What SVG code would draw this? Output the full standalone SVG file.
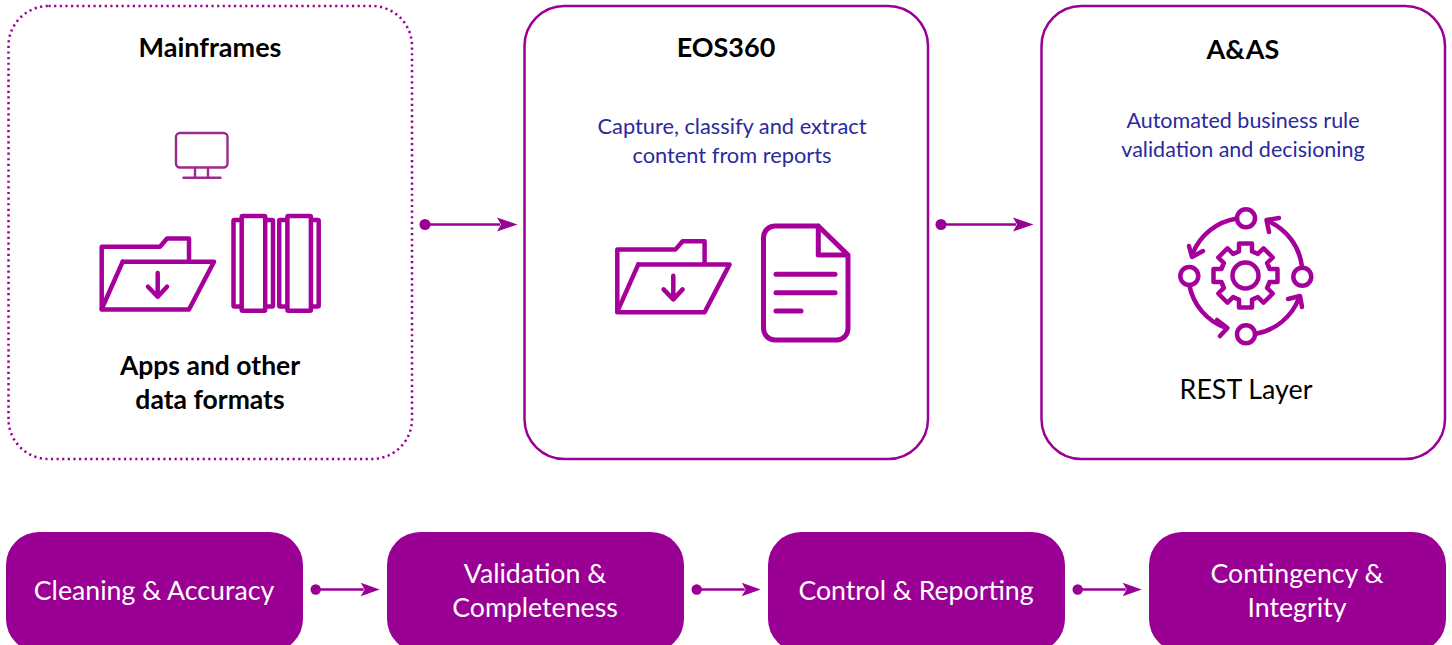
<svg xmlns="http://www.w3.org/2000/svg" width="1452" height="645" viewBox="0 0 1452 645">
<style>
text{font-family:Lato,"Noto Sans","Liberation Sans",sans-serif;text-anchor:middle}
.box{fill:#fff;stroke:#9b0095;stroke-width:2.5}
.dot{fill:#fff;stroke:#9b0095;stroke-width:2.5;stroke-dasharray:2.2 3.42}
.pill{fill:#9b0095}
.h{font-size:27px;font-weight:700;fill:#000}
.h2{font-size:26.5px;font-weight:700;fill:#000}
.s{font-size:21.5px;fill:#2b2a9c}
.s2{font-size:21.8px;fill:#2b2a9c}
.w{font-size:26.7px;fill:#fff}
.i{fill:none;stroke:#a6009a;stroke-width:4.500;stroke-linejoin:round;stroke-linecap:round}
.c{stroke:#9b0095;stroke-width:2.500;fill:none}
.d{fill:#9b0095}
</style>
<defs>
<g id="folder" class="i">
<path d="M122.700 261.700H214L189 309.500H101.700V246.700H160L167 238.500H189V261.700"/>
<path d="M122.700 261.700L101.700 309"/>
<path d="M157.700 273V296.700M148 286.700L157.700 296.700L167 286.700"/>
</g>
<g id="book" class="i">
<rect x="233.500" y="220" width="39.500" height="86.500" rx="1"/>
<rect x="241.700" y="216" width="23.500" height="94.700" rx="1" fill="#fff"/>
</g>
<path id="tooth" d="M-9.200-23L-6.500-24V-32H6.500V-24L9.200-23"/>
<g id="arrow"><circle r="5.200" class="d"/><path d="M0 0H48" class="c"/><path d="M45 -6.700L64 0L45 6.700L49 0Z" class="d"/></g>
<g id="arrowL"><circle r="5.500" class="d"/><path d="M0 0H75" class="c"/><path d="M72 -7L92.500 0L72 7L76 0Z" class="d"/></g>
</defs>

<g id="connectors">
<use href="#arrowL" x="425" y="224.500"/>
<use href="#arrowL" x="941" y="224.500"/>
<use href="#arrow" x="315.700" y="589.500"/>
<use href="#arrow" x="696.700" y="589.500"/>
<use href="#arrow" x="1077.700" y="589.500"/>
</g>

<g id="mainframes">
<rect class="dot" x="8.500" y="6" width="403.500" height="453" rx="40"/>
<text class="h" x="210" y="56.500">Mainframes</text>
<g fill="none" stroke="#9b2a8c" stroke-width="2.400" stroke-linecap="round">
<rect x="176" y="133" width="51.500" height="34.500" rx="4"/>
<path d="M195 167.500V177.700M208 167.500V177.700M183.500 177.700H220.500"/>
</g>
<use href="#folder"/>
<use href="#book"/>
<use href="#book" x="45.700"/>
<text class="h2" x="210" y="374.500">Apps and other</text>
<text class="h2" x="210" y="408.500">data formats</text>
</g>

<g id="eos360">
<rect class="box" x="524.500" y="6" width="403.500" height="453" rx="40"/>
<text class="h" x="726" y="56.500">EOS360</text>
<text class="s2" x="732" y="134">Capture, classify and extract</text>
<text class="s2" x="732" y="163">content from reports</text>
<use href="#folder" x="515.600" y="2.700"/>
<g class="i">
<path style="stroke-width:5" d="M818.300 226H775A11.500 11.500 0 0 0 763.500 237.500V328.500A11.500 11.500 0 0 0 775 340H837A11.500 11.500 0 0 0 848 328.500V255L818.300 226V255H848"/>
<path style="stroke-width:5" d="M776 274.300H835M776 292.700H835M776 311H801"/>
</g>
</g>

<g id="aas">
<rect class="box" x="1041.500" y="6" width="403.500" height="453" rx="40"/>
<text class="h" x="1243" y="58.500">A&amp;AS</text>
<text class="s" x="1243" y="127.500">Automated business rule</text>
<text class="s" x="1243" y="156.500">validation and decisioning</text>
<g class="i">
<circle cx="1246" cy="218.300" r="9"/>
<circle cx="1189.300" cy="276" r="9"/>
<circle cx="1302.300" cy="276.700" r="9"/>
<circle cx="1246" cy="334.300" r="9"/>
<path d="M1237 218.500A57 57 0 0 0 1192.500 254"/>
<path d="M1189.300 285A57 57 0 0 0 1226 328"/>
<path d="M1255 334A57 57 0 0 0 1299 298"/>
<path d="M1302 267A57 57 0 0 0 1268 221"/>
<path d="M1189 246L1192 257L1203 251"/>
<path d="M1217 320L1227.500 328L1220 336"/>
<path d="M1288 299L1300 296L1302 307"/>
<path d="M1279 218L1266.500 220L1269 232"/>
<g transform="translate(1245.500 275.500)">
<use href="#tooth"/>
<use href="#tooth" transform="rotate(45)"/>
<use href="#tooth" transform="rotate(90)"/>
<use href="#tooth" transform="rotate(135)"/>
<use href="#tooth" transform="rotate(180)"/>
<use href="#tooth" transform="rotate(225)"/>
<use href="#tooth" transform="rotate(270)"/>
<use href="#tooth" transform="rotate(315)"/>
<circle r="13"/>
</g>
</g>
<text x="1246" y="398.500" font-size="26.800" fill="#000">REST Layer</text>
</g>

<g id="cleaning">
<rect class="pill" x="6" y="532" width="297" height="120" rx="33"/>
<text class="w" x="154" y="600">Cleaning &amp; Accuracy</text>
</g>
<g id="validation">
<rect class="pill" x="387" y="532" width="297" height="120" rx="33"/>
<text class="w" x="535" y="583">Validation &amp;</text>
<text class="w" x="535" y="617">Completeness</text>
</g>
<g id="control">
<rect class="pill" x="768" y="532" width="297" height="120" rx="33"/>
<text class="w" x="916" y="600">Control &amp; Reporting</text>
</g>
<g id="contingency">
<rect class="pill" x="1149" y="532" width="297" height="120" rx="33"/>
<text class="w" x="1297" y="583">Contingency &amp;</text>
<text class="w" x="1297" y="617">Integrity</text>
</g>
</svg>
